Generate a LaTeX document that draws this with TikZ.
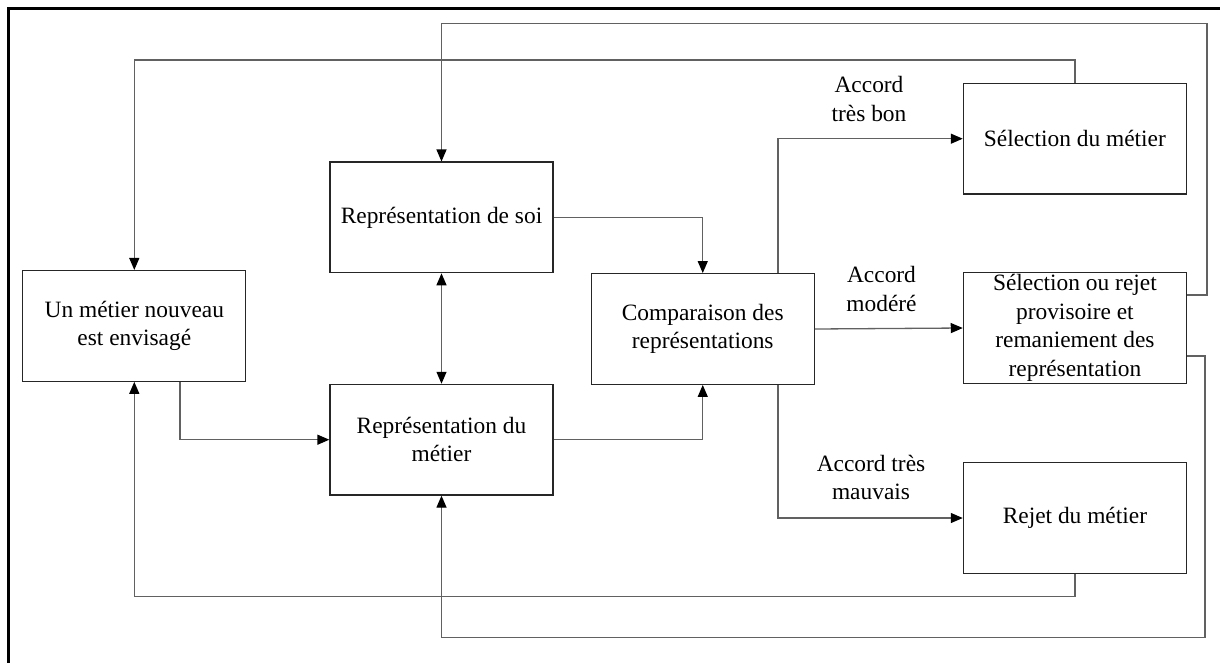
\documentclass[tikz,border=0pt]{standalone}
\usepackage{fontspec}
\setmainfont{Liberation Serif}
\usetikzlibrary{arrows.meta}
\begin{document}
\begin{tikzpicture}[x=1pt,y=-1pt,
  box/.style={draw=black!85, line width=1.3pt, minimum width=223pt, minimum height=110.6pt, inner sep=0pt, align=center, font=\fontsize{23.4}{28.5}\selectfont},
  conn/.style={draw=black!62, line width=1.3pt, -{Triangle[length=12pt,width=10pt,color=black]}},
  biconn/.style={draw=black!62, line width=1.3pt, {Triangle[length=12pt,width=10pt,color=black]}-{Triangle[length=12pt,width=10pt,color=black]}},
  lbl/.style={align=center, inner sep=0pt, font=\fontsize{23.4}{28.5}\selectfont}]
\useasboundingbox (0,0) rectangle (1220,662);
\fill[white] (0,0) rectangle (1220,662);
% frame
\draw[line width=2.6pt, line cap=rect] (8.7,662) -- (8.7,8.3) -- (1220,8.3);
% boxes
\node[box] (un) at (134.3,325.9) {Un métier nouveau\\est envisagé};
\node[box] (soi) at (441.5,217.4) {Représentation de soi};
\node[box] (metier) at (441.5,439.7) {Représentation du\\métier};
\node[box] (comp) at (702.75,329) {Comparaison des\\représentations};
\node[box] (sel) at (1074.9,138.7) {Sélection du métier};
\node[box] (selrej) at (1074.9,328) {Sélection ou rejet\\provisoire et\\remaniement des\\représentation};
\node[box] (rej) at (1074.9,518) {Rejet du métier};
% labels
\node[lbl] (l1) at (869,99) {Accord\\très bon};
\node[lbl] (l2) at (881.5,289) {Accord\\modéré};
\node[lbl] (l3) at (871,477.5) {Accord très\\mauvais};
% corner coordinates
\coordinate (lt) at (0,60);
\coordinate (lb) at (0,596.7);
\coordinate (rt) at (1207,23.3);
\coordinate (rb) at (1205,637.3);
% connectors
\draw[conn] ([xshift=45.7pt]un.south) |- (metier.west);
\draw[conn] (soi.east) -| (comp.north);
\draw[conn] (metier.east) -| (comp.south);
\draw[biconn] (soi.south) -- (metier.north);
\draw[conn] ([xshift=75.3pt]comp.north) |- (sel.west);
\draw[conn] (comp.east) -- (selrej.west);
\draw[conn] ([xshift=75.3pt]comp.south) |- (rej.west);
\draw[conn] (sel.north) -- (sel.north |- lt) -| (un.north);
\draw[conn] ([yshift=33pt]selrej.east) -| (rt) -| (soi.north);
\draw[conn] ([yshift=-28pt]selrej.east) -| (rb) -| (metier.south);
\draw[conn] (rej.south) -- (rej.south |- lb) -| (un.south);
\end{tikzpicture}
\end{document}
